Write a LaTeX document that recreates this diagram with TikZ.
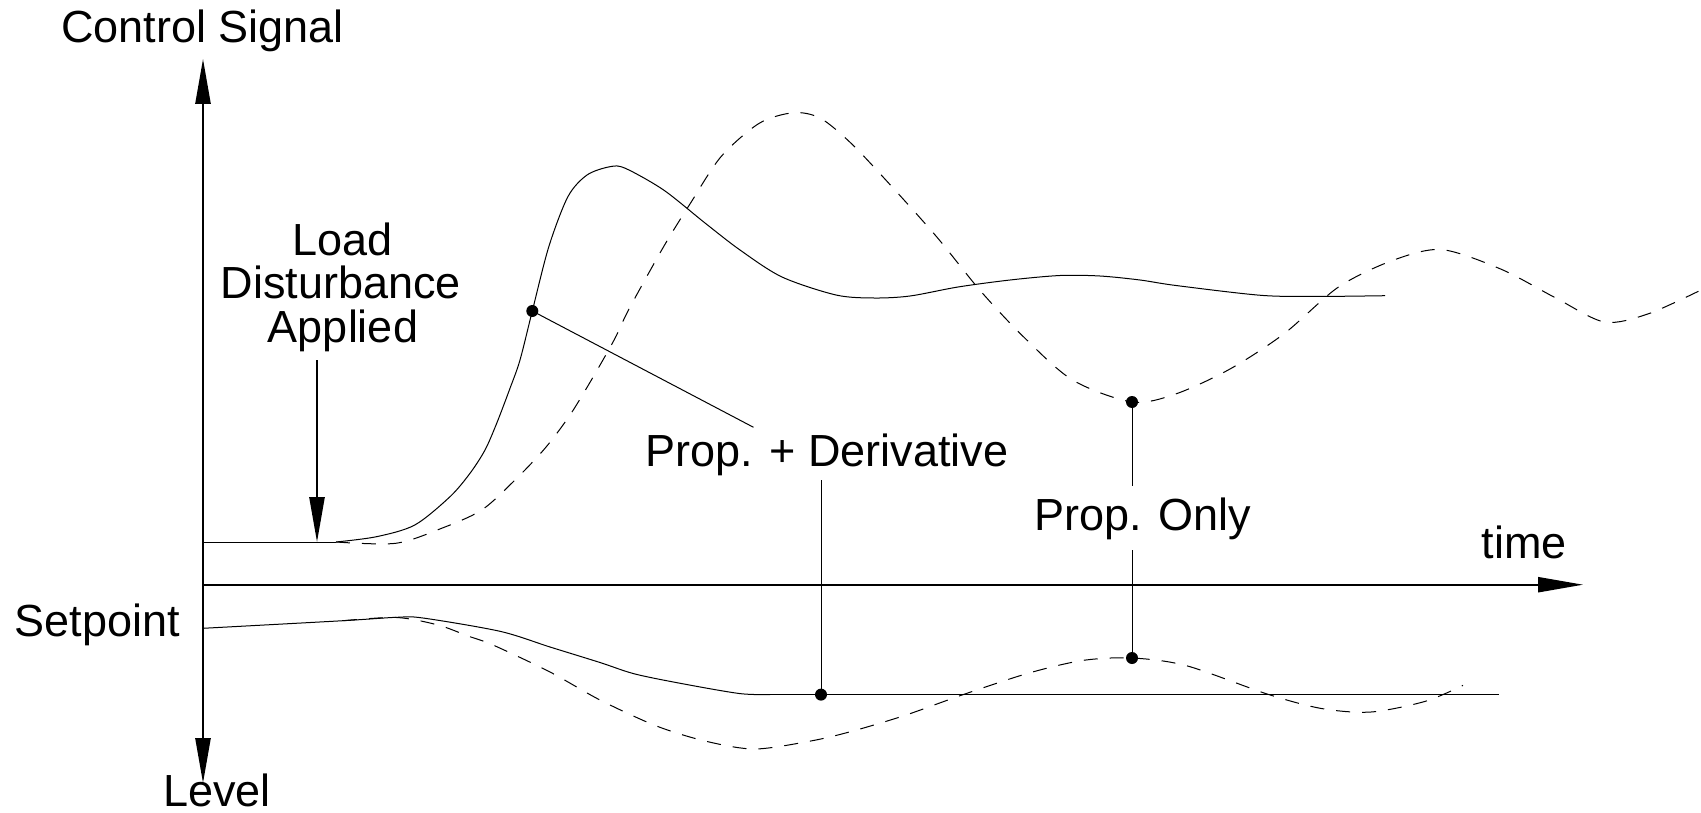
\documentclass[tikz,border=0pt]{standalone}
\usepackage{fontspec}
\setmainfont{Liberation Sans}
\usetikzlibrary{arrows.meta}

\begin{document}
\begin{tikzpicture}[x=0.5pt,y=-0.5pt,
  >={Triangle[length=22.5pt,width=7.6pt]},
  every node/.style={inner sep=0pt, font=\fontsize{22.5}{22}\selectfont},
  lbl/.style={anchor=base},
  axis/.style={line width=1pt},
  taxis/.style={line width=0.8pt},
  resp/.style={line width=0.5pt},
  ponly/.style={line width=0.5pt, dash pattern=on 7pt off 6pt},
  lead/.style={line width=0.5pt},
  dot/.style={circle, fill=black, minimum size=6pt, inner sep=0pt}]
\useasboundingbox (0,0) rectangle (1701,813);

% axes
\coordinate (ytop) at (203,59);
\coordinate (ybot) at (203,783);
\coordinate (o) at (203,584.7);
\coordinate (tend) at (1583,584.7);
\draw[axis,<->] (ytop) -- (ybot);
\draw[taxis,->] (o) -- (tend);

% labels
\node[lbl] (ctrl) at (202.5,43) {Control Signal};
\node[lbl] (level) at (217,806) {Level};
\node[lbl] (setp) at (97.5,636) {Setpoint};
\node[lbl] (time) at (1524,558.6) {time};
\node[lbl] (load) at (342.5,255) {Load};
\node[lbl] (dist) at (341,298) {Disturbance};
\node[lbl, outer sep=4.5pt] (appl) at (343,342) {Applied};
\node[lbl, outer sep=2pt] (pd) at (827,466.7) {Prop. + Derivative};
\node[lbl, outer sep=5.5pt] (po) at (1143,530) {Prop. Only};

% control signal
\coordinate (cs0) at (203,542);
\coordinate (ld) at (317,542);
\coordinate (cs1) at (336,542);
\draw[resp] (cs0) -- (cs1);
\draw[axis,->] (appl.south -| ld) -- (ld);
\draw[resp] plot[smooth] coordinates {(336,542) (376.5,536.7) (414.8,525)
  (450,496.7) (470,473.3) (485,450) (496.7,423.3) (510,388.3) (520,360)
  (532.3,311) (548.8,246.7) (567.9,196.7) (587,175) (610,166.7) (625.3,168.3)
  (663.6,190) (705,223) (740,250) (782,277) (836,295) (874,298) (910,296)
  (958,287) (1010,280) (1060,275.5) (1100,276) (1140,280) (1176,285.5)
  (1262,295.4) (1322,296.4) (1385,295.7)};
\draw[ponly] plot[smooth] coordinates {(336,542) (395.7,543.3) (441.6,528.3)
  (481.7,510) (515,480) (545,448.3) (570,415) (593.3,376.7) (615,338.3)
  (629,309) (663.6,246.7) (690.4,203.3) (721,156.7) (759.2,123.3)
  (793.7,112.7) (820.5,118.3) (851.1,143.3) (889,183.5) (936.8,237)
  (980.3,290.7) (1023.7,337) (1072.5,380) (1132,402) (1175.6,394) (1230,369)
  (1284.2,333.6) (1338.5,287) (1392.7,260.4) (1441.6,249.6) (1501.3,269.3)
  (1555.6,297.9) (1604.4,322) (1647.8,314) (1701,290)};

% level
\draw[resp] plot[smooth] coordinates {(203,628.3) (343,620.7) (396.7,617.3)
  (423,618) (500,631.3) (550,647) (600,662.5) (635,674) (684,684) (740,693.6)
  (770,694.5)};
\coordinate (lv1) at (770,694.5);
\coordinate (lv2) at (1498.6,694.5);
\draw[resp] (lv1) -- (lv2);
\draw[ponly] plot[smooth] coordinates {(343,620.7) (396.7,617.5) (438,625)
  (468,636) (493,645) (550,672) (600,700) (656,725.8) (705,741) (754.5,749)
  (810.7,741) (850,731.8) (904,715.7) (964,694.3) (1029,673) (1083,660.4)
  (1132,658) (1186.5,665.7) (1268,694.3) (1322,708.6) (1371,712)
  (1425,701.4) (1463,685.4)};

% markers and leaders
\node[dot] (pdhi) at (532.3,311) {};
\node[dot] (pdlo) at (821,694.6) {};
\node[dot] (pohi) at (1132,402) {};
\node[dot] (polo) at (1132,658) {};
\coordinate (pdtip) at (753.5,427.3);
\draw[lead] (pdhi.center) -- (pdtip);
\draw[lead] (pd.south -| pdlo) -- (pdlo.center);
\draw[lead] (pohi.center) -- (po.north -| pohi);
\draw[lead] (po.south -| polo) -- (polo.center);
\end{tikzpicture}
\end{document}
